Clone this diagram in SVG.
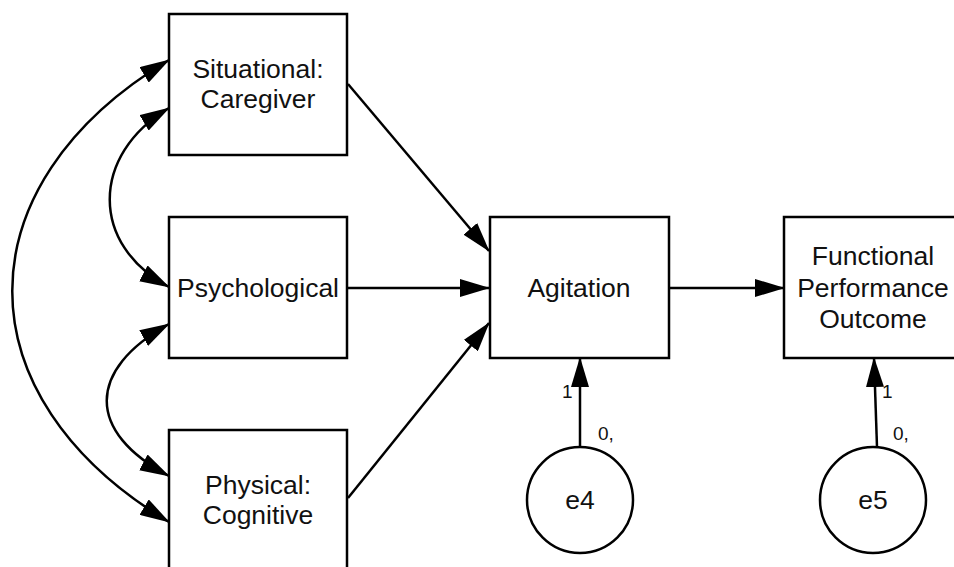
<svg xmlns="http://www.w3.org/2000/svg" width="954" height="567" viewBox="0 0 954 567">
<style>
.box{fill:#fff;stroke:#000;stroke-width:2.5}
.lbl{font-family:"Liberation Sans",Arial,sans-serif;font-size:26.5px;fill:#111;text-anchor:middle}
.sm{font-family:"Liberation Sans",Arial,sans-serif;font-size:19px;fill:#111}
.ln{fill:none;stroke:#000;stroke-width:2.5}
</style>
<defs>
<marker id="ah" markerUnits="userSpaceOnUse" markerWidth="30" markerHeight="18" refX="29" refY="9" orient="auto-start-reverse" viewBox="0 0 30 18">
<path d="M0,0 L30,9 L0,18 z" fill="#000"/>
</marker>
</defs>
<rect width="954" height="567" fill="#fff"/>
<g id="connectors">
<path class="ln" d="M169,60 C-40,185 -40,397 169,522" marker-start="url(#ah)" marker-end="url(#ah)"/>
<path class="ln" d="M169,108 C90,155 90,245 169,287" marker-start="url(#ah)" marker-end="url(#ah)"/>
<path class="ln" d="M169,324 C86,370 86,432 169,476" marker-start="url(#ah)" marker-end="url(#ah)"/>
<line class="ln" x1="348" y1="84" x2="489" y2="251" marker-end="url(#ah)"/>
<line class="ln" x1="348" y1="288" x2="489" y2="288" marker-end="url(#ah)"/>
<line class="ln" x1="348" y1="498" x2="489" y2="323" marker-end="url(#ah)"/>
<line class="ln" x1="669" y1="288" x2="784" y2="288" marker-end="url(#ah)"/>
<line class="ln" x1="580" y1="447" x2="580" y2="358" marker-end="url(#ah)"/>
<line class="ln" x1="877" y1="447" x2="874" y2="358" marker-end="url(#ah)"/>
<text class="sm" x="562" y="398">1</text>
<text class="sm" x="598" y="440">0,</text>
<text class="sm" x="882" y="398">1</text>
<text class="sm" x="893" y="440">0,</text>
</g>
<g id="situational">
<rect class="box" x="169" y="14" width="178" height="141"/>
<text class="lbl" x="258" y="78">Situational:</text>
<text class="lbl" x="258" y="108">Caregiver</text>
</g>
<g id="psychological">
<rect class="box" x="169" y="217" width="178" height="141"/>
<text class="lbl" x="258" y="297">Psychological</text>
</g>
<g id="physical">
<rect class="box" x="169" y="430" width="178" height="150"/>
<text class="lbl" x="258" y="494">Physical:</text>
<text class="lbl" x="258" y="524">Cognitive</text>
</g>
<g id="agitation">
<rect class="box" x="490" y="217" width="179" height="141"/>
<text class="lbl" x="579" y="297">Agitation</text>
</g>
<g id="functional">
<rect class="box" x="784" y="217" width="185" height="141"/>
<text class="lbl" x="873" y="265">Functional</text>
<text class="lbl" x="873" y="297">Performance</text>
<text class="lbl" x="873" y="328">Outcome</text>
</g>
<g id="e4">
<circle class="box" cx="580" cy="500" r="53"/>
<text class="lbl" x="580" y="509">e4</text>
</g>
<g id="e5">
<circle class="box" cx="873" cy="500" r="53"/>
<text class="lbl" x="873" y="509">e5</text>
</g>
</svg>
